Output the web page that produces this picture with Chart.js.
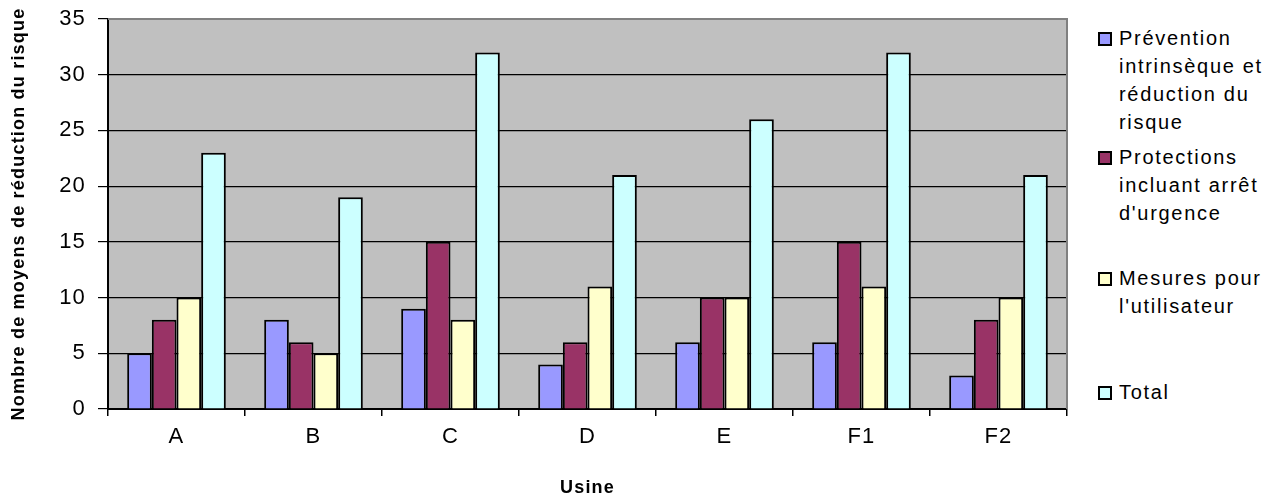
<!DOCTYPE html>
<html lang="fr">
<head>
<meta charset="utf-8">
<script src="https://cdn.jsdelivr.net/npm/chart.js@4.4.1/dist/chart.umd.min.js"></script>
<style>
  html, body { margin: 0; padding: 0; background: #fff; }
  #wrap { position: relative; width: 1281px; height: 499px; }
  #box { position: absolute; left: 0; top: 0; width: 1070px; height: 499px; }
  #legend { position: absolute; left: 1098px; top: 0; width: 183px;
            font-family: "Liberation Sans", Arial, sans-serif; font-size: 20px;
            letter-spacing: 1.7px; line-height: 28px; color: #000; }
  .item { position: absolute; left: 0; white-space: nowrap; }
  .sw { position: absolute; left: 0; top: 8px; width: 10px; height: 10px; border: 2px solid #000; }
  .txt { position: absolute; left: 21px; top: 0; }
</style>
</head>
<body>
<div id="wrap">
  <div id="box"><canvas id="c"></canvas></div>
  <div id="legend"></div>
</div>
<script>
// Usines et nombre de moyens de réduction du risque par catégorie
const usines = ['A', 'B', 'C', 'D', 'E', 'F1', 'F2'];
const prevention = [5, 8, 9, 4, 6, 6, 3];
const protections = [8, 6, 15, 6, 10, 15, 8];
const mesures = [10, 5, 8, 11, 10, 11, 10];
const total = [23, 19, 32, 21, 26, 32, 21];

const seriesLines = [
  ['Prévention', 'intrinsèque et', 'réduction du', 'risque'],
  ['Protections', 'incluant arrêt', "d'urgence"],
  ['Mesures pour', "l'utilisateur"],
  ['Total']
];
const seriesColors = ['#9999FF', '#993366', '#FFFFCC', '#CCFFFF'];
const seriesValues = [prevention, protections, mesures, total];

const yTicks = [0, 5, 10, 15, 20, 25, 30, 35];
const yTitle = 'Nombre de moyens de réduction du risque';
const xTitle = 'Usine';

const FONT = '"Liberation Sans", Arial, sans-serif';

// Plot background and frame, Excel-style
const plotFrame = {
  id: 'plotFrame',
  beforeDraw(chart) {
    const { ctx, chartArea: a } = chart;
    ctx.save();
    ctx.fillStyle = '#C0C0C0';
    ctx.fillRect(a.left, a.top, a.right - a.left, a.bottom - a.top);
    ctx.restore();
  },
  afterDraw(chart) {
    const { ctx, chartArea: a } = chart;
    ctx.save();
    ctx.strokeStyle = '#808080';
    ctx.lineWidth = 2;
    ctx.beginPath();
    ctx.moveTo(a.left, a.top);
    ctx.lineTo(a.right, a.top);
    ctx.lineTo(a.right, a.bottom);
    ctx.stroke();
    ctx.restore();
  }
};

// Slightly widened lettering for all chart texts
const spacing = {
  id: 'spacing',
  beforeUpdate(chart) { chart.ctx.letterSpacing = '1.2px'; },
  beforeDraw(chart) { chart.ctx.letterSpacing = '1.2px'; }
};

const chart = new Chart(document.getElementById('c'), {
  type: 'bar',
  data: {
    labels: usines,
    datasets: seriesValues.map((vals, i) => ({
      label: seriesLines[i].join(' '),
      data: vals,
      backgroundColor: seriesColors[i],
      borderColor: '#000',
      borderWidth: 2,
      borderSkipped: 'start',
      categoryPercentage: 0.72,
      barPercentage: 1.0
    }))
  },
  options: {
    responsive: true,
    maintainAspectRatio: false,
    animation: false,
    layout: { padding: { left: 0, right: 3, top: 19, bottom: 0 } },
    plugins: { legend: { display: false }, tooltip: { enabled: false } },
    scales: {
      x: {
        afterFit(s) { s.height = 90; s.paddingLeft = 0; s.paddingRight = 0; },
        grid: { display: true, drawOnChartArea: false, offset: true, color: '#000', lineWidth: 1.5, tickLength: 7 },
        border: { display: true, color: '#000', width: 2 },
        ticks: { color: '#000', font: { family: FONT, size: 22 }, padding: 8 },
        title: { display: true, text: xTitle, color: '#000', font: { family: FONT, size: 18, weight: 'bold' }, padding: { top: 0, bottom: 0 } }
      },
      y: {
        min: 0, max: 35,
        afterFit(s) { s.width = 108; s.paddingTop = 0; s.paddingBottom = 0; },
        afterBuildTicks(s) { s.ticks = yTicks.map(v => ({ value: v })); },
        grid: { color: '#000', lineWidth: 1.2, tickLength: 10 },
        border: { display: true, color: '#000', width: 2 },
        ticks: { color: '#000', font: { family: FONT, size: 22 }, padding: 12 },
        title: { display: true, text: yTitle, color: '#000', font: { family: FONT, size: 18, weight: 'bold' }, padding: { top: 8, bottom: 0 } }
      }
    }
  },
  plugins: [plotFrame, spacing]
});

// Legend with wrapped labels, built from the series
const legendTops = [24, 143, 264, 378];
const legend = document.getElementById('legend');
seriesLines.forEach((lines, i) => {
  const item = document.createElement('div');
  item.className = 'item';
  item.style.top = legendTops[i] + 'px';
  const sw = document.createElement('div');
  sw.className = 'sw';
  sw.style.background = seriesColors[i];
  const txt = document.createElement('div');
  txt.className = 'txt';
  txt.innerHTML = lines.map(l => l.replace(/&/g, '&amp;').replace(/</g, '&lt;')).join('<br>');
  item.appendChild(sw);
  item.appendChild(txt);
  legend.appendChild(item);
});
</script>
</body>
</html>
